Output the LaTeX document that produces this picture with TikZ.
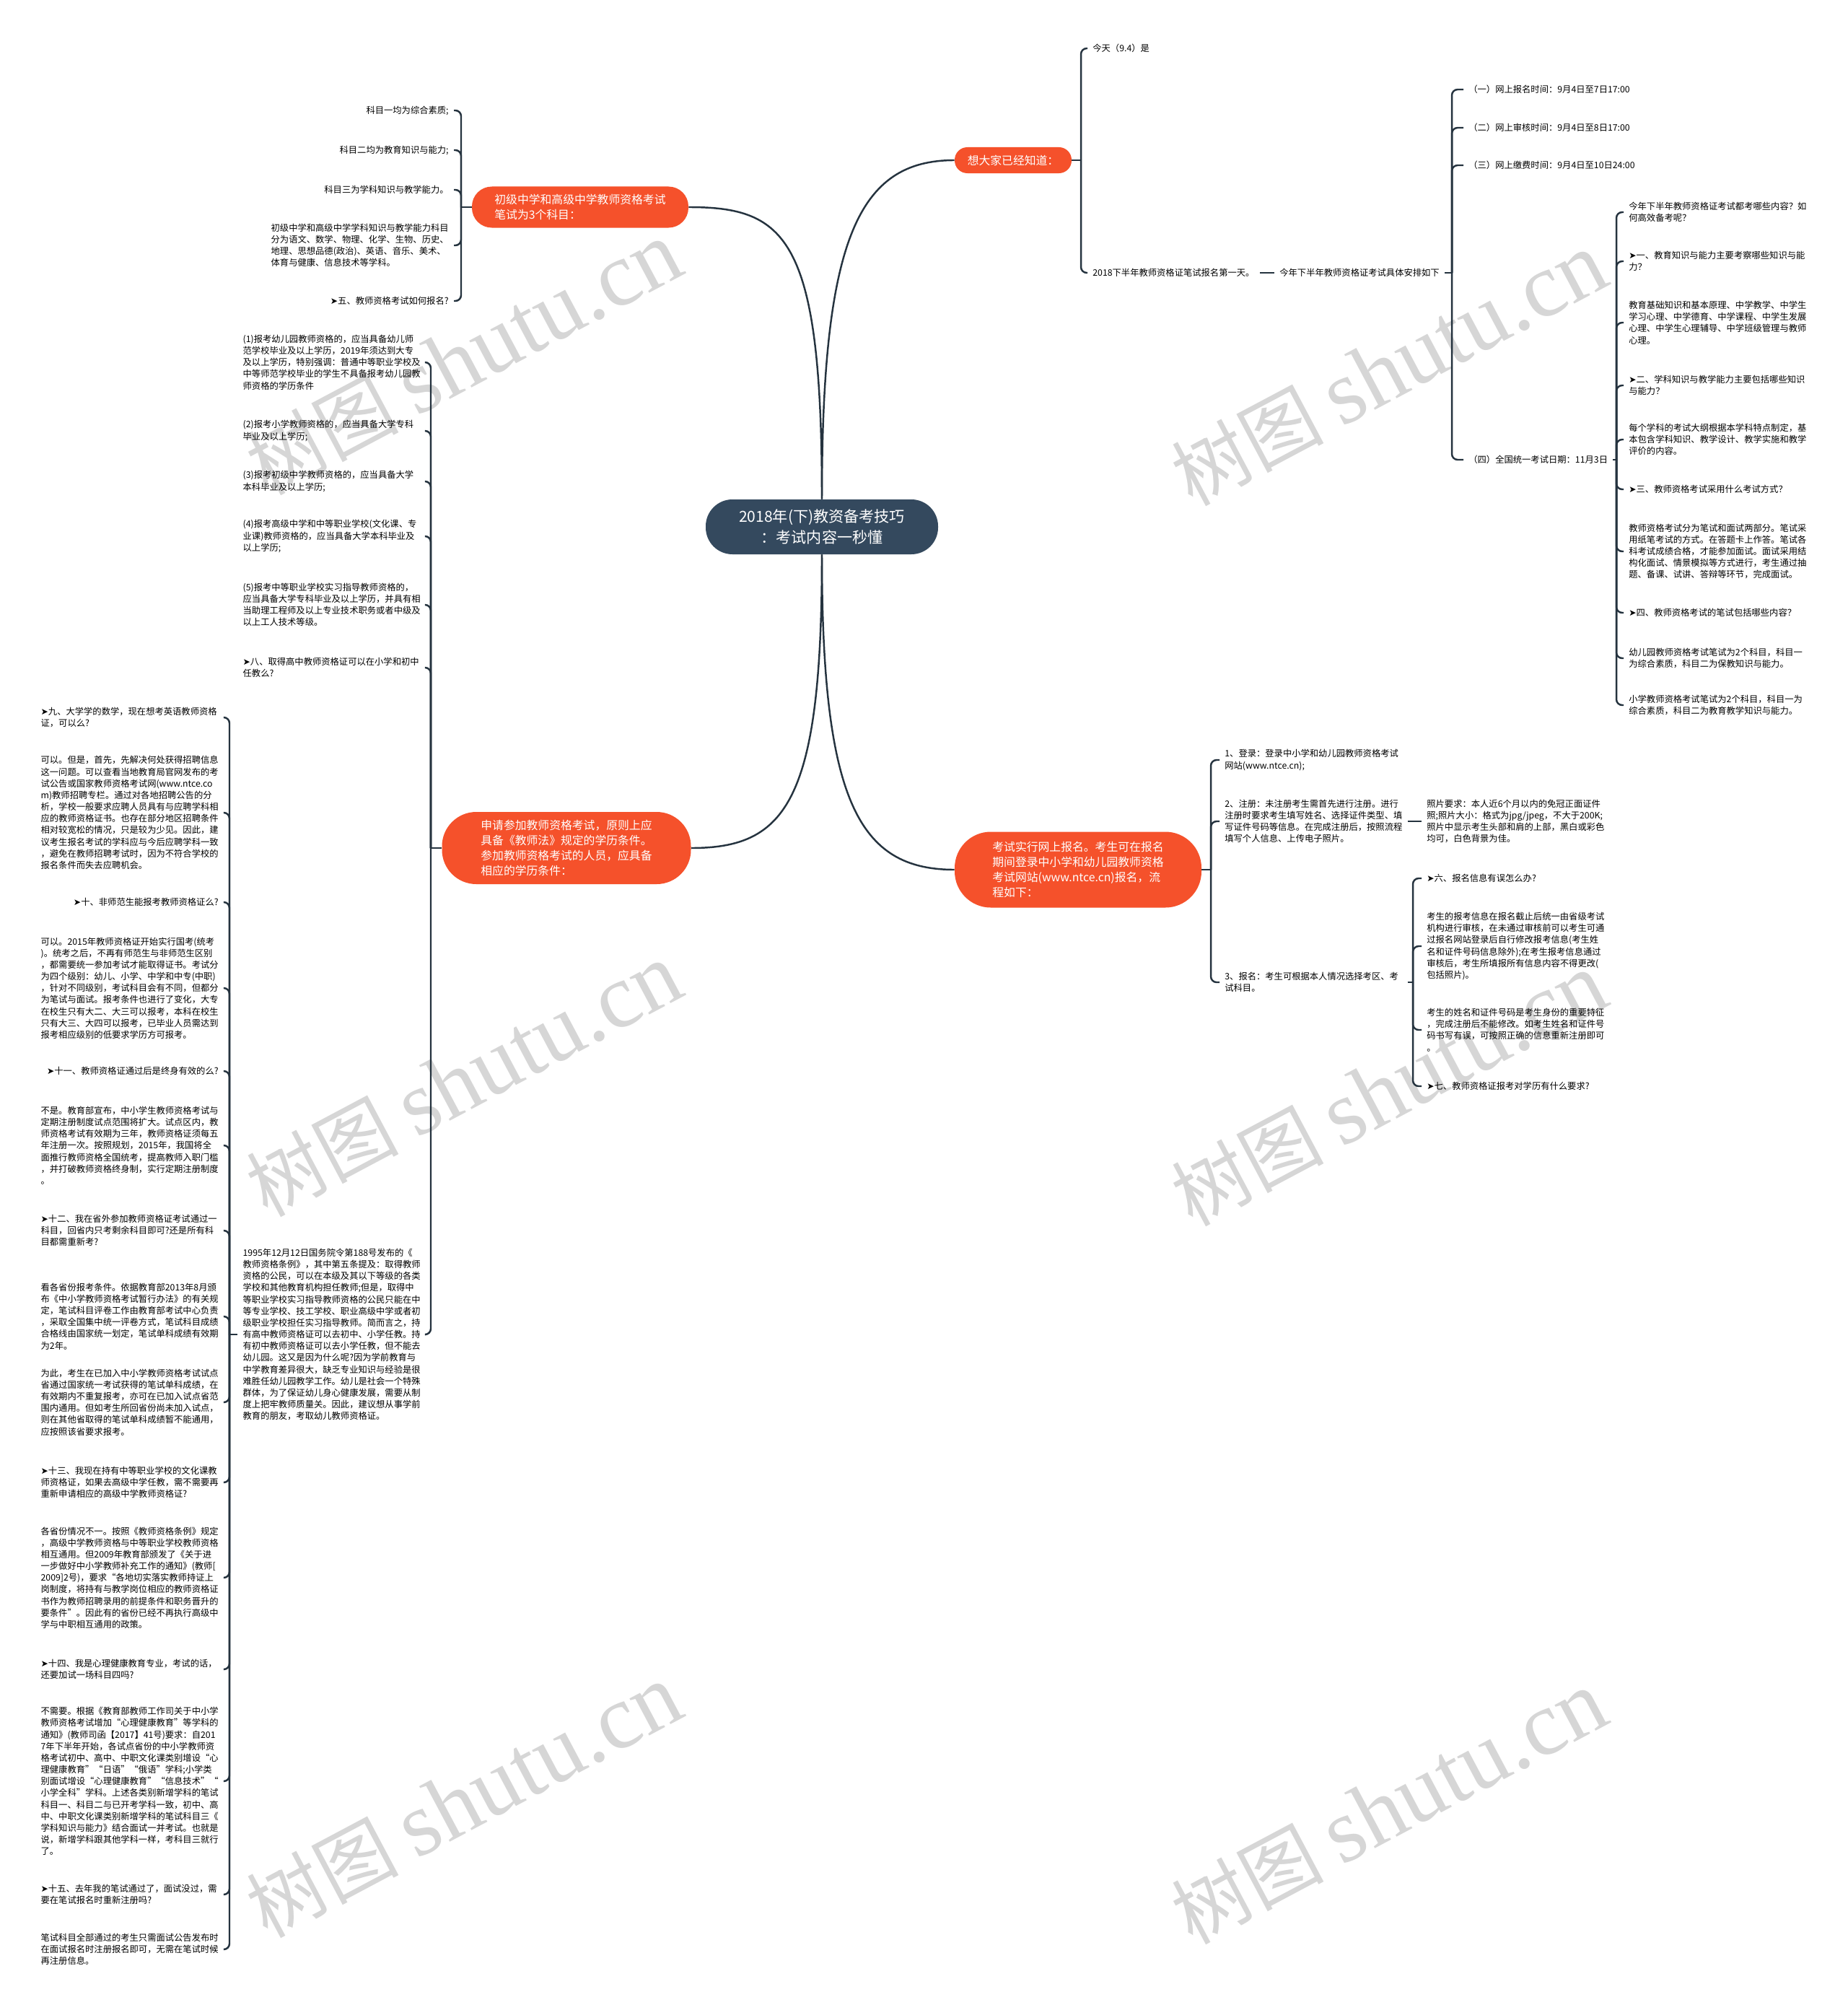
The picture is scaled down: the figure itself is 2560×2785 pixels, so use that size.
\documentclass[tikz,border=0pt]{standalone}
\usepackage{fontspec}
\setmainfont{Noto Sans CJK SC}
\newfontfamily\symfnt{DejaVu Sans}
\newfontfamily\wmfnt{Liberation Serif}
\newcommand{\qtip}{{\symfnt ➤}}
\definecolor{hubc}{HTML}{34495E}
\definecolor{topicc}{HTML}{F5512B}
\definecolor{wirec}{HTML}{25333F}
\begin{document}
\begin{tikzpicture}[x=0.2mm,y=-0.2mm,
  hub/.style={fill=hubc,text=white,rounded corners=7.4mm,minimum width=64.4mm,minimum height=15.2mm,align=center,font=\fontsize{12}{16}\selectfont},
  topic/.style={fill=topicc,text=white,align=left,font=\fontsize{9}{12}\selectfont},
  leaf/.style={inner xsep=1.4mm,inner ysep=0.6mm,align=left,font=\fontsize{7}{9.2}\selectfont},
  para/.style={leaf,text width=49.2mm},
  wire/.style={draw=wirec,line width=1.4pt},
  hook/.style={wire,rounded corners=1.6mm},
  wmark/.style={text=black!16,rotate=28,inner sep=0pt}]
\fill[white] (0,0) rectangle (2560,2785);
\useasboundingbox (0,0) rectangle (2560,2785);
\foreach \wx/\wy in {643/497,1925/512,643/1497,1925/1510,643/2496,1925/2505}
  \node[wmark] at (\wx,\wy) {\fontsize{60}{60}\selectfont 树图 {\wmfnt\fontsize{72}{72}\selectfont shutu.cn}};

\node[hub] (hub) at (1139,730) {2018年(下)教资备考技巧\\：考试内容一秒懂};
\node[topic,rounded corners=3.5mm,minimum width=32.4mm,minimum height=7.2mm] (know) at (1404,222) {想大家已经知道：};
\node[topic,rounded corners=5.5mm,minimum width=60mm,minimum height=11.4mm] (subj) at (804,287) {初级中学和高级中学教师资格考试\\笔试为3个科目：};
\node[topic,rounded corners=9.5mm,minimum width=69mm,minimum height=20mm] (degree) at (785,1175) {申请参加教师资格考试，原则上应\\具备《教师法》规定的学历条件。\\参加教师资格考试的人员，应具备\\相应的学历条件：};
\node[topic,rounded corners=10mm,minimum width=68.4mm,minimum height=21mm] (apply) at (1494,1205) {考试实行网上报名。考生可在报名\\期间登录中小学和幼儿园教师资格\\考试网站(www.ntce.cn)报名，流\\程如下：};

\draw[wire] (hub.north) .. controls (1139,330) and (1190,222) .. (know.west);
\draw[wire] (hub.north) .. controls (1139,330) and (1090,287) .. (subj.east);
\draw[wire] (hub.south) .. controls (1139,1110) and (1090,1175) .. (degree.east);
\draw[wire] (hub.south) .. controls (1139,1110) and (1190,1205) .. (apply.west);

\node[leaf,anchor=west] (today) at (1507,67) {今天（9.4）是};
\node[leaf,anchor=west] (first) at (1507,378) {2018下半年教师资格证笔试报名第一天。};
\node[leaf,anchor=west] (plan) at (1766,378) {今年下半年教师资格证考试具体安排如下};
\node[leaf,anchor=west] (time1) at (2028,124) {（一）网上报名时间：9月4日至7日17:00};
\node[leaf,anchor=west] (time2) at (2028,177) {（二）网上审核时间：9月4日至8日17:00};
\node[leaf,anchor=west] (time3) at (2028,229) {（三）网上缴费时间：9月4日至10日24:00};
\node[leaf,anchor=west] (time4) at (2028,637) {（四）全国统一考试日期：11月3日};
\coordinate (b1) at (1498,222);
\coordinate (b1x) at (2012,378);
\coordinate (b1y) at (2240,637);
\draw[wire] (know.east) -- (b1);
\foreach \c in {today,first} \draw[hook] (b1) |- (\c.west);
\draw[wire] (first.east) -- (plan.west);
\draw[wire] (plan.east) -- (b1x);
\foreach \c in {time1,time2,time3,time4} \draw[hook] (b1x) |- (\c.west);
\draw[wire] (time4.east) -- (b1y);

\node[para,anchor=west] (c1) at (2250,294) {今年下半年教师资格证考试都考哪些内容？如\\何高效备考呢？};
\node[para,anchor=west] (c2) at (2250,362) {\qtip 一、教育知识与能力主要考察哪些知识与能\\力？};
\node[para,anchor=west] (c3) at (2250,447) {教育基础知识和基本原理、中学教学、中学生\\学习心理、中学德育、中学课程、中学生发展\\心理、中学生心理辅导、中学班级管理与教师\\心理。};
\node[para,anchor=west] (c4) at (2250,534) {\qtip 二、学科知识与教学能力主要包括哪些知识\\与能力？};
\node[para,anchor=west] (c5) at (2250,609) {每个学科的考试大纲根据本学科特点制定，基\\本包含学科知识、教学设计、教学实施和教学\\评价的内容。};
\node[leaf,anchor=west] (c6) at (2250,678) {\qtip 三、教师资格考试采用什么考试方式？};
\node[para,anchor=west] (c7) at (2250,764) {教师资格考试分为笔试和面试两部分。笔试采\\用纸笔考试的方式。在答题卡上作答。笔试各\\科考试成绩合格，才能参加面试。面试采用结\\构化面试、情景模拟等方式进行，考生通过抽\\题、备课、试讲、答辩等环节，完成面试。};
\node[leaf,anchor=west] (c8) at (2250,849) {\qtip 四、教师资格考试的笔试包括哪些内容？};
\node[para,anchor=west] (c9) at (2250,912) {幼儿园教师资格考试笔试为2个科目，科目一\\为综合素质，科目二为保教知识与能力。};
\node[para,anchor=west] (c10) at (2250,977) {小学教师资格考试笔试为2个科目，科目一为\\综合素质，科目二为教育教学知识与能力。};
\foreach \c in {c1,c2,c3,c4,c5,c6,c7,c8,c9,c10} \draw[hook] (b1y) |- (\c.west);

\node[leaf,anchor=east] (sub1) at (629,153) {科目一均为综合素质;};
\node[leaf,anchor=east] (sub2) at (629,208) {科目二均为教育知识与能力;};
\node[leaf,anchor=east] (sub3) at (629,263) {科目三为学科知识与教学能力。};
\node[para,anchor=east] (sub4) at (629,340) {初级中学和高级中学学科知识与教学能力科目\\分为语文、数学、物理、化学、生物、历史、\\地理、思想品德(政治)、英语、音乐、美术、\\体育与健康、信息技术等学科。};
\node[leaf,anchor=east] (sub5) at (629,417) {\qtip 五、教师资格考试如何报名?};
\coordinate (b2) at (639,287);
\draw[wire] (subj.west) -- (b2);
\foreach \c in {sub1,sub2,sub3,sub4,sub5} \draw[hook] (b2) |- (\c.east);

\node[para,anchor=east] (deg1) at (590,502) {(1)报考幼儿园教师资格的，应当具备幼儿师\\范学校毕业及以上学历，2019年须达到大专\\及以上学历，特别强调：普通中等职业学校及\\中等师范学校毕业的学生不具备报考幼儿园教\\师资格的学历条件};
\node[para,anchor=east] (deg2) at (590,597) {(2)报考小学教师资格的，应当具备大学专科\\毕业及以上学历;};
\node[para,anchor=east] (deg3) at (590,667) {(3)报考初级中学教师资格的，应当具备大学\\本科毕业及以上学历;};
\node[para,anchor=east] (deg4) at (590,743) {(4)报考高级中学和中等职业学校(文化课、专\\业课)教师资格的，应当具备大学本科毕业及\\以上学历;};
\node[para,anchor=east] (deg5) at (590,838) {(5)报考中等职业学校实习指导教师资格的，\\应当具备大学专科毕业及以上学历，并具有相\\当助理工程师及以上专业技术职务或者中级及\\以上工人技术等级。};
\node[para,anchor=east] (deg6) at (590,925) {\qtip 八、取得高中教师资格证可以在小学和初中\\任教么?};
\node[para,anchor=east] (deg7) at (590,1849) {1995年12月12日国务院令第188号发布的《\\教师资格条例》，其中第五条提及：取得教师\\资格的公民，可以在本级及其以下等级的各类\\学校和其他教育机构担任教师;但是，取得中\\等职业学校实习指导教师资格的公民只能在中\\等专业学校、技工学校、职业高级中学或者初\\级职业学校担任实习指导教师。简而言之，持\\有高中教师资格证可以去初中、小学任教。持\\有初中教师资格证可以去小学任教，但不能去\\幼儿园。这又是因为什么呢?因为学前教育与\\中学教育差异很大，缺乏专业知识与经验是很\\难胜任幼儿园教学工作。幼儿是社会一个特殊\\群体，为了保证幼儿身心健康发展，需要从制\\度上把牢教师质量关。因此，建议想从事学前\\教育的朋友，考取幼儿教师资格证。};
\coordinate (b3) at (597,1175);
\coordinate (b3x) at (318,1849);
\draw[wire] (degree.west) -- (b3);
\foreach \c in {deg1,deg2,deg3,deg4,deg5,deg6,deg7} \draw[hook] (b3) |- (\c.east);
\draw[wire] (deg7.west) -- (b3x);

\node[para,anchor=east] (faq1) at (310,994) {\qtip 九、大学学的数学，现在想考英语教师资格\\证，可以么?};
\node[para,anchor=east] (faq2) at (310,1126) {可以。但是，首先，先解决何处获得招聘信息\\这一问题。可以查看当地教育局官网发布的考\\试公告或国家教师资格考试网(www.ntce.co\\m)教师招聘专栏。通过对各地招聘公告的分\\析，学校一般要求应聘人员具有与应聘学科相\\应的教师资格证书。也存在部分地区招聘条件\\相对较宽松的情况，只是较为少见。因此，建\\议考生报名考试的学科应与今后应聘学科一致\\，避免在教师招聘考试时，因为不符合学校的\\报名条件而失去应聘机会。};
\node[leaf,anchor=east] (faq3) at (310,1250) {\qtip 十、非师范生能报考教师资格证么?};
\node[para,anchor=east] (faq4) at (310,1369) {可以。2015年教师资格证开始实行国考(统考\\)。统考之后，不再有师范生与非师范生区别\\，都需要统一参加考试才能取得证书。考试分\\为四个级别：幼儿、小学、中学和中专(中职)\\，针对不同级别，考试科目会有不同，但都分\\为笔试与面试。报考条件也进行了变化，大专\\在校生只有大二、大三可以报考，本科在校生\\只有大三、大四可以报考，已毕业人员需达到\\报考相应级别的低要求学历方可报考。};
\node[leaf,anchor=east] (faq5) at (310,1484) {\qtip 十一、教师资格证通过后是终身有效的么?};
\node[para,anchor=east] (faq6) at (310,1587) {不是。教育部宣布，中小学生教师资格考试与\\定期注册制度试点范围将扩大。试点区内，教\\师资格考试有效期为三年，教师资格证须每五\\年注册一次。按照规划，2015年，我国将全\\面推行教师资格全国统考，提高教师入职门槛\\，并打破教师资格终身制，实行定期注册制度\\。};
\node[para,anchor=east] (faq7) at (310,1705) {\qtip 十二、我在省外参加教师资格证考试通过一\\科目，回省内只考剩余科目即可?还是所有科\\目都需重新考?};
\node[para,anchor=east] (faq8) at (310,1824) {看各省份报考条件。依据教育部2013年8月颁\\布《中小学教师资格考试暂行办法》的有关规\\定，笔试科目评卷工作由教育部考试中心负责\\，采取全国集中统一评卷方式，笔试科目成绩\\合格线由国家统一划定，笔试单科成绩有效期\\为2年。};
\node[para,anchor=east] (faq9) at (310,1943) {为此，考生在已加入中小学教师资格考试试点\\省通过国家统一考试获得的笔试单科成绩，在\\有效期内不重复报考，亦可在已加入试点省范\\围内通用。但如考生所回省份尚未加入试点，\\则在其他省取得的笔试单科成绩暂不能通用，\\应按照该省要求报考。};
\node[para,anchor=east] (faq10) at (310,2054) {\qtip 十三、我现在持有中等职业学校的文化课教\\师资格证，如果去高级中学任教，需不需要再\\重新申请相应的高级中学教师资格证?};
\node[para,anchor=east] (faq11) at (310,2186) {各省份情况不一。按照《教师资格条例》规定\\，高级中学教师资格与中等职业学校教师资格\\相互通用。但2009年教育部颁发了《关于进\\一步做好中小学教师补充工作的通知》(教师[\\2009]2号)，要求“各地切实落实教师持证上\\岗制度，将持有与教学岗位相应的教师资格证\\书作为教师招聘录用的前提条件和职务晋升的\\要条件”。因此有的省份已经不再执行高级中\\学与中职相互通用的政策。};
\node[para,anchor=east] (faq12) at (310,2313) {\qtip 十四、我是心理健康教育专业，考试的话，\\还要加试一场科目四吗?};
\node[para,anchor=east] (faq13) at (310,2468) {不需要。根据《教育部教师工作司关于中小学\\教师资格考试增加“心理健康教育”等学科的\\通知》(教师司函【2017】41号)要求：自201\\7年下半年开始，各试点省份的中小学教师资\\格考试初中、高中、中职文化课类别增设“心\\理健康教育”“日语”“俄语”学科;小学类\\别面试增设“心理健康教育”“信息技术”“\\小学全科”学科。上述各类别新增学科的笔试\\科目一、科目二与已开考学科一致，初中、高\\中、中职文化课类别新增学科的笔试科目三《\\学科知识与能力》结合面试一并考试。也就是\\说，新增学科跟其他学科一样，考科目三就行\\了。};
\node[para,anchor=east] (faq14) at (310,2625) {\qtip 十五、去年我的笔试通过了，面试没过，需\\要在笔试报名时重新注册吗?};
\node[para,anchor=east] (faq15) at (310,2701) {笔试科目全部通过的考生只需面试公告发布时\\在面试报名时注册报名即可，无需在笔试时候\\再注册信息。};
\foreach \c in {faq1,faq2,faq3,faq4,faq5,faq6,faq7,faq8,faq9,faq10,faq11,faq12,faq13,faq14,faq15} \draw[hook] (b3x) |- (\c.east);

\node[para,anchor=west] (step1) at (1690,1053) {1、登录：登录中小学和幼儿园教师资格考试\\网站(www.ntce.cn);};
\node[para,anchor=west] (step2) at (1690,1138) {2、注册：未注册考生需首先进行注册。进行\\注册时要求考生填写姓名、选择证件类型、填\\写证件号码等信息。在完成注册后，按照流程\\填写个人信息、上传电子照片。};
\node[para,anchor=west] (photo) at (1970,1138) {照片要求：本人近6个月以内的免冠正面证件\\照;照片大小：格式为jpg/jpeg，不大于200K;\\照片中显示考生头部和肩的上部，黑白或彩色\\均可，白色背景为佳。};
\node[para,anchor=west] (step3) at (1690,1361) {3、报名：考生可根据本人情况选择考区、考\\试科目。};
\node[leaf,anchor=west] (err) at (1970,1217) {\qtip 六、报名信息有误怎么办?};
\node[para,anchor=west] (err1) at (1970,1311) {考生的报考信息在报名截止后统一由省级考试\\机构进行审核，在未通过审核前可以考生可通\\过报名网站登录后自行修改报考信息(考生姓\\名和证件号码信息除外);在考生报考信息通过\\审核后，考生所填报所有信息内容不得更改(\\包括照片)。};
\node[para,anchor=west] (err2) at (1970,1427) {考生的姓名和证件号码是考生身份的重要特征\\，完成注册后不能修改。如考生姓名和证件号\\码书写有误，可按照正确的信息重新注册即可\\。};
\node[leaf,anchor=west] (edu) at (1970,1505) {\qtip 七、教师资格证报考对学历有什么要求?};
\coordinate (b4) at (1678,1205);
\coordinate (b4x) at (1958,1361);
\draw[wire] (apply.east) -- (b4);
\foreach \c in {step1,step2,step3} \draw[hook] (b4) |- (\c.west);
\draw[wire] (step2.east) -- (photo.west);
\draw[wire] (step3.east) -- (b4x);
\foreach \c in {err,err1,err2,edu} \draw[hook] (b4x) |- (\c.west);
\end{tikzpicture}
\end{document}
